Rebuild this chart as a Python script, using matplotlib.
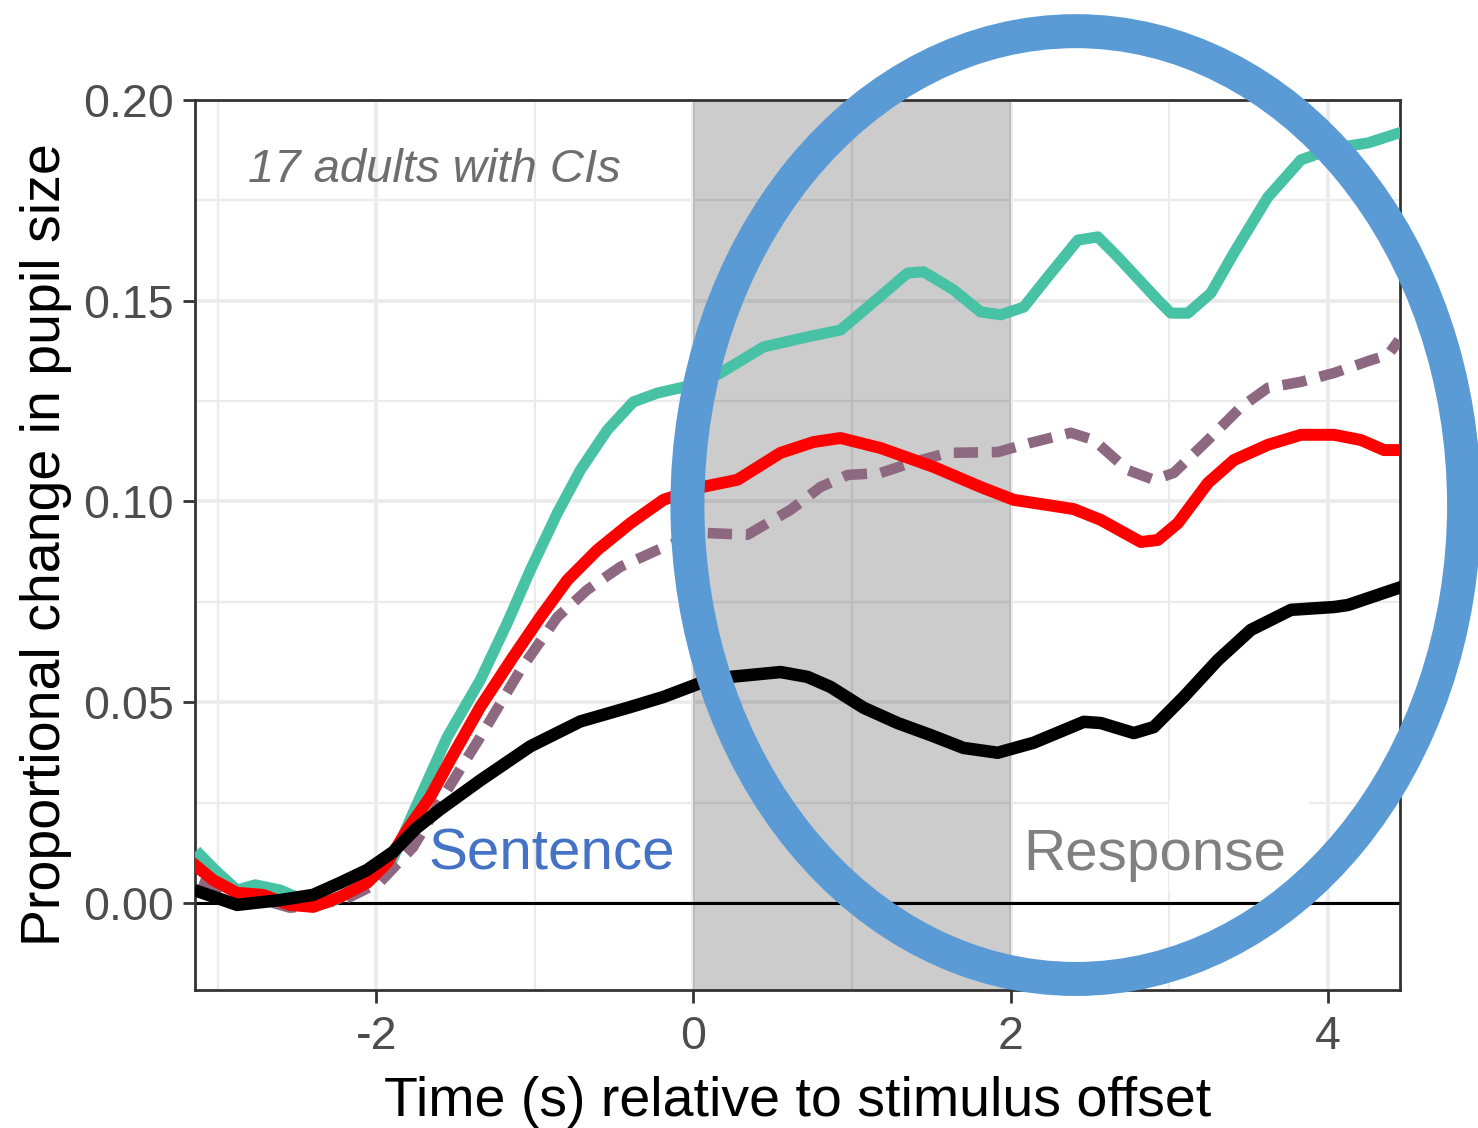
import matplotlib
matplotlib.use("Agg")
import matplotlib.pyplot as plt
from matplotlib.patches import Ellipse, Rectangle
from matplotlib.ticker import MultipleLocator

plt.rcParams['font.family'] = ['Liberation Sans', 'DejaVu Sans']
plt.rcParams['axes.unicode_minus'] = False

# ---- data ----
teal_t = [-3.110, -3.016, -2.877, -2.763, -2.606, -2.416, -2.259, -2.101, -1.912, -1.767,
          -1.552, -1.344, -1.174, -1.028, -0.858, -0.713, -0.543, -0.379, -0.227, -0.082,
          0.044, 0.170, 0.442, 0.719, 0.927, 1.098, 1.350, 1.451, 1.640, 1.811,
          1.937, 2.082, 2.233, 2.423, 2.549, 2.675, 2.927, 3.009, 3.117, 3.262,
          3.407, 3.621, 3.830, 4.038, 4.252, 4.448]
teal_v = [0.0120, 0.0082, 0.0032, 0.0045, 0.0032, 0.0000, 0.0007, 0.0040, 0.0095, 0.0224,
          0.0413, 0.0555, 0.0697, 0.0829, 0.0971, 0.1078, 0.1178, 0.1248, 0.1270, 0.1283,
          0.1295, 0.1320, 0.1385, 0.1410, 0.1427, 0.1484, 0.1569, 0.1572, 0.1527, 0.1472,
          0.1465, 0.1484, 0.1559, 0.1651, 0.1659, 0.1609, 0.1502, 0.1469, 0.1469, 0.1519,
          0.1619, 0.1758, 0.1851, 0.1880, 0.1893, 0.1918]

red_t = [-3.129, -3.028, -2.877, -2.713, -2.543, -2.397, -2.227, -2.057, -1.931, -1.804,
         -1.659, -1.533, -1.344, -1.136, -0.965, -0.795, -0.606, -0.397, -0.189, 0.044,
         0.278, 0.549, 0.757, 0.927, 1.180, 1.514, 1.811, 2.019, 2.233, 2.397,
         2.568, 2.820, 2.927, 3.054, 3.243, 3.407, 3.621, 3.830, 4.038, 4.208,
         4.353, 4.448]
red_v = [0.0090, 0.0057, 0.0025, 0.0020, -0.0005, -0.0010, 0.0015, 0.0050, 0.0100, 0.0182,
         0.0264, 0.0356, 0.0488, 0.0613, 0.0712, 0.0804, 0.0879, 0.0946, 0.1004, 0.1035,
         0.1054, 0.1121, 0.1148, 0.1158, 0.1133, 0.1086, 0.1036, 0.1004, 0.0991, 0.0981,
         0.0954, 0.0899, 0.0904, 0.0946, 0.1046, 0.1103, 0.1141, 0.1166, 0.1166, 0.1153,
         0.1128, 0.1128]

dash_t = [-3.110, -2.877, -2.713, -2.543, -2.353, -2.164, -1.975, -1.767, -1.552, -1.344,
          -1.091, -0.858, -0.669, -0.461, -0.227, 0.044, 0.341, 0.467, 0.612, 0.801,
          0.972, 1.180, 1.388, 1.603, 1.918, 2.126, 2.379, 2.524, 2.738, 2.902,
          3.028, 3.243, 3.451, 3.621, 3.830, 4.038, 4.271, 4.379, 4.448]
dash_v = [0.0057, 0.0020, 0.0007, -0.0012, -0.0005, 0.0015, 0.0052, 0.0139, 0.0281, 0.0413,
          0.0580, 0.0712, 0.0780, 0.0837, 0.0879, 0.0922, 0.0917, 0.0946, 0.0979, 0.1036,
          0.1066, 0.1071, 0.1098, 0.1121, 0.1123, 0.1146, 0.1171, 0.1153, 0.1078, 0.1054,
          0.1071, 0.1153, 0.1235, 0.1283, 0.1298, 0.1320, 0.1352, 0.1365, 0.1402]

black_t = [-3.110, -2.877, -2.606, -2.397, -2.227, -2.057, -1.893, -1.750, -1.600, -1.344,
           -1.028, -0.713, -0.397, -0.189, 0.025, 0.233, 0.549, 0.719, 0.864, 1.073,
           1.287, 1.495, 1.703, 1.918, 2.145, 2.461, 2.568, 2.776, 2.902, 3.091,
           3.306, 3.514, 3.767, 4.038, 4.126, 4.448]
black_v = [0.0027, -0.0005, 0.0007, 0.0020, 0.0050, 0.0082, 0.0127, 0.0185, 0.0232, 0.0305,
           0.0390, 0.0452, 0.0488, 0.0513, 0.0545, 0.0563, 0.0575, 0.0563, 0.0538, 0.0486,
           0.0448, 0.0418, 0.0386, 0.0374, 0.0399, 0.0451, 0.0448, 0.0423, 0.0438, 0.0513,
           0.0605, 0.0680, 0.0730, 0.0737, 0.0742, 0.0785]

x_ticks = [-2, 0, 2, 4]
y_ticks = [0.00, 0.05, 0.10, 0.15, 0.20]
y_tick_labels = ["0.00", "0.05", "0.10", "0.15", "0.20"]

# ---- figure ----
fig = plt.figure(figsize=(14.78, 11.28), dpi=100)
ax = fig.add_axes([195/1478, 138/1128, 1205/1478, 890/1128])
ax.set_xlim(-3.142, 4.454)
ax.set_ylim(-0.0217, 0.2)

ax.set_xticks(x_ticks)
ax.set_yticks(y_ticks)
ax.set_yticklabels(y_tick_labels)
ax.xaxis.set_minor_locator(MultipleLocator(1))
ax.yaxis.set_minor_locator(MultipleLocator(0.025))
ax.grid(which='major', color='#EBEBEB', linewidth=2.6, zorder=0)
ax.grid(which='minor', color='#EBEBEB', linewidth=1.6, zorder=0)
ax.set_axisbelow(True)
ax.tick_params(which='major', direction='out', length=9, width=2, color='#333333',
               labelsize=33.5, labelcolor='#4D4D4D')
ax.tick_params(axis='x', which='major', pad=9)
ax.tick_params(axis='y', which='major', pad=6)
ax.tick_params(which='minor', length=0)
for s in ax.spines.values():
    s.set_color('#333333')
    s.set_linewidth(2)

ax.axvspan(0, 2, color='black', alpha=0.2, linewidth=0, zorder=1)
ax.add_patch(Rectangle((3.0, 0.0027), 0.88, 0.0228, facecolor='white', edgecolor='none', zorder=1.5))
ax.axhline(0, color='black', linewidth=2.2, zorder=2)

ax.plot(teal_t, teal_v, color='#48C2A5', linewidth=8.0, zorder=3, solid_joinstyle='round')
ax.plot(dash_t, dash_v, color='#8E6880', linewidth=7.6, zorder=3.5, dashes=(2.3, 1.3),
        dash_capstyle='butt')
ax.plot(red_t, red_v, color='#FF0000', linewidth=8.6, zorder=4, solid_joinstyle='round')
ax.plot(black_t, black_v, color='black', linewidth=9.0, zorder=5, solid_joinstyle='round')

ax.set_xlabel('Time (s) relative to stimulus offset', fontsize=40, labelpad=12)
ax.set_ylabel('Proportional change in pupil size', fontsize=40, labelpad=8)

ax.text(-2.808, 0.1826, '17 adults with CIs', fontsize=34, style='italic', color='#6E6E6E',
        va='center', ha='left', zorder=6)
ax.text(-1.672, 0.0120, 'Sentence', fontsize=42, color='#4472C4', va='center', ha='left', zorder=6)
ax.text(2.076, 0.0120, 'Response', fontsize=42, color='#808080', va='center', ha='left', zorder=6)

ell = Ellipse((2.41, 0.0991), 4.896, 0.2361, fill=False, edgecolor='#5B9BD5', linewidth=24.5,
              clip_on=False, zorder=10)
ax.add_patch(ell)

fig.savefig('out.png', dpi=100)
